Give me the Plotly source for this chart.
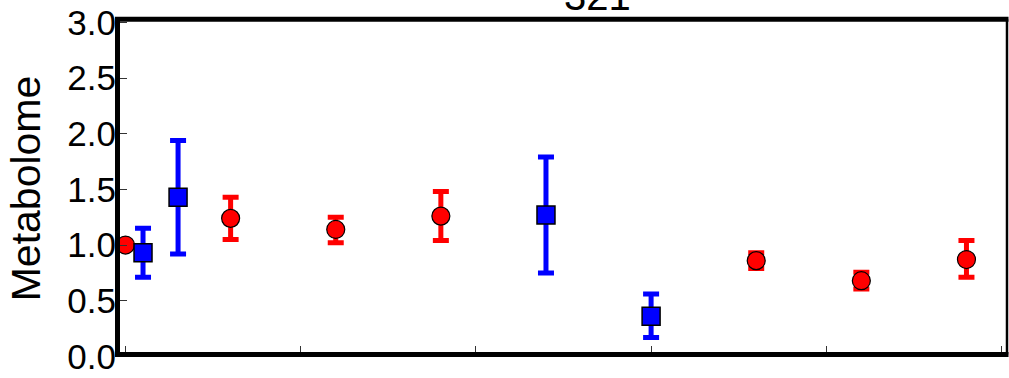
import plotly.graph_objects as go

# Data
red_x = [0, 3, 6, 9, 18, 21, 24]
red_y = [1.00, 1.24, 1.14, 1.26, 0.86, 0.68, 0.87]
red_err_plus = [0.00, 0.19, 0.11, 0.22, 0.07, 0.075, 0.17]
red_err_minus = [0.00, 0.19, 0.12, 0.22, 0.07, 0.075, 0.16]

blue_x = [0.5, 1.5, 12, 15]
blue_y = [0.93, 1.43, 1.27, 0.36]
blue_err_plus = [0.22, 0.51, 0.52, 0.20]
blue_err_minus = [0.22, 0.51, 0.52, 0.19]

x_ticks = [0, 5, 10, 15, 20, 25]
y_ticks = [0.0, 0.5, 1.0, 1.5, 2.0, 2.5, 3.0]
y_ticklabels = ["0.0", "0.5", "1.0", "1.5", "2.0", "2.5", "3.0"]

title_text = "321"
y_title = "Metabolome"

FONT = "Liberation Sans, Arial, Helvetica, sans-serif"

W, H = 1009, 378
L, R, T, B = 117, 2, 20, 15
PW, PH = W - L - R, H - T - B


def px_x(p):
    return (p - L) / PW


def px_y(p):
    return (H - B - p) / PH


fig = go.Figure()

fig.add_trace(go.Scatter(
    x=red_x, y=red_y, mode="markers",
    marker=dict(symbol="circle", size=18, color="#FF0000",
                line=dict(color="black", width=1.2)),
    error_y=dict(type="data", symmetric=False, array=red_err_plus,
                 arrayminus=red_err_minus, color="#FF0000",
                 thickness=5, width=8),
    showlegend=False,
))

fig.add_trace(go.Scatter(
    x=blue_x, y=blue_y, mode="markers",
    marker=dict(symbol="square", size=18, color="#0000FF",
                line=dict(color="black", width=1.5)),
    error_y=dict(type="data", symmetric=False, array=blue_err_plus,
                 arrayminus=blue_err_minus, color="#0000FF",
                 thickness=5, width=8),
    showlegend=False,
))

# frame lines (decoration)
frame = [
    dict(x0=px_x(115), x1=px_x(1008.5), y0=px_y(360.5), y1=px_y(360.5), w=5),   # bottom
    dict(x0=px_x(115), x1=px_x(1008.5), y0=px_y(19.3), y1=px_y(19.3), w=5),     # top
    dict(x0=px_x(117.5), x1=px_x(117.5), y0=px_y(363), y1=px_y(17), w=5),       # left
    dict(x0=px_x(1007), x1=px_x(1007), y0=px_y(360.5), y1=px_y(19.3), w=2.5),   # right
]
shapes = [dict(type="line", xref="paper", yref="paper", layer="above",
               x0=f["x0"], x1=f["x1"], y0=f["y0"], y1=f["y1"],
               line=dict(color="black", width=f["w"])) for f in frame]

fig.update_layout(
    width=W, height=H,
    margin=dict(l=L, r=R, t=T, b=B),
    paper_bgcolor="white", plot_bgcolor="white",
    font=dict(family=FONT, color="black"),
    xaxis=dict(
        range=[(L - 125.5) / 35.04, (W - R - 125.5) / 35.04],
        tickvals=x_ticks, showticklabels=False,
        ticks="inside", ticklen=11, tickwidth=1, tickcolor="#333",
        showline=False, showgrid=False, zeroline=False,
    ),
    yaxis=dict(
        range=[-(H - B - 362.4) / 113.3, 3 + (22.4 - T) / 113.3],
        tickvals=y_ticks, ticktext=y_ticklabels,
        ticks="inside", ticklen=10, tickwidth=1, tickcolor="#333",
        tickfont=dict(size=35, color="black"), ticklabeloverflow="allow",
        showline=False, showgrid=False, zeroline=False,
        title=dict(text=y_title, font=dict(size=41, color="black"), standoff=13),
    ),
    shapes=shapes,
    annotations=[dict(text=title_text, xref="paper", yref="paper",
                      x=px_x(597), y=1, yshift=0,
                      xanchor="center", yanchor="bottom", showarrow=False,
                      font=dict(size=40, color="black", family=FONT))],
)

fig.write_html("out.html", config={"displayModeBar": False},
               post_script="document.body.style.margin='0';")
